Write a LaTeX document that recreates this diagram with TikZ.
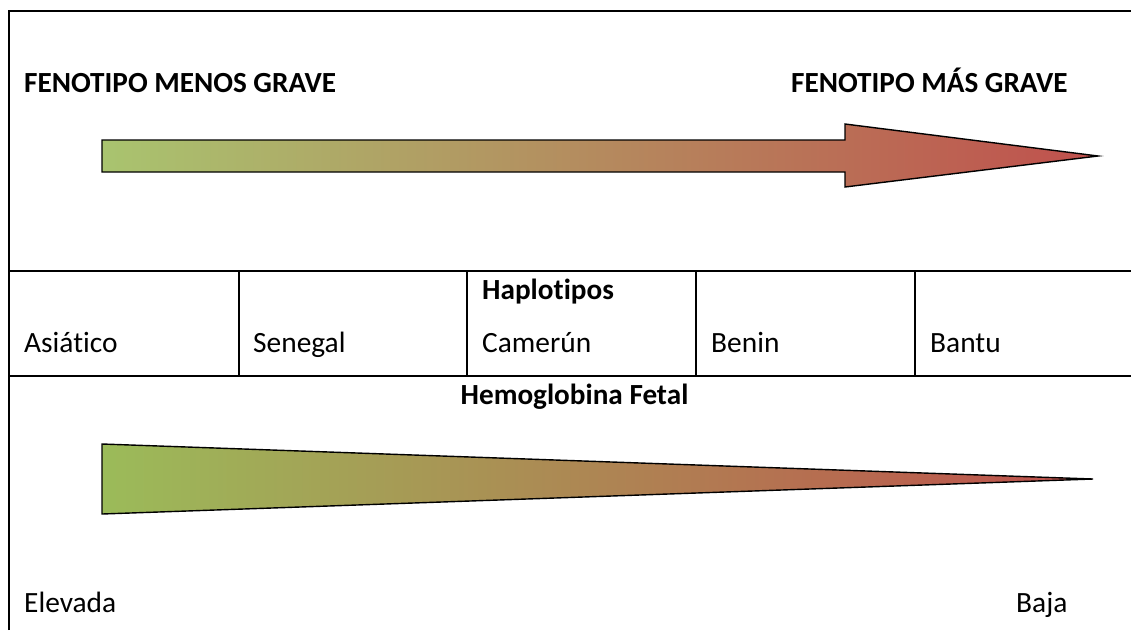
\documentclass[tikz,border=0pt]{standalone}
\usepackage{fontspec}
\setmainfont{Carlito}[Ligatures=NoCommon]
\usepackage{tikz}
\usetikzlibrary{positioning}

\definecolor{mildgreen}{HTML}{A9C46F}
\definecolor{deepgreen}{HTML}{9BBB59}
\definecolor{severered}{HTML}{C0504D}

\begin{document}
\begin{tikzpicture}[x=1pt, y=-1pt,
heading/.style={font=\bfseries\fontsize{29.2}{35}\selectfont, anchor=base west, inner sep=0pt},
celltext/.style={font=\fontsize{29.4}{35}\selectfont, anchor=base west, inner sep=0pt},
rule/.style={line width=2pt},
band/.style={draw=black, line width=1.4pt, line join=miter}
]
\useasboundingbox (0,0) rectangle (1131,630);
% frame and table lines
\draw[rule] (9,630) -- (9,11) -- (1131,11);
\draw[rule] (9,271) -- (1131,271);
\draw[rule] (9,376) -- (1131,376);
\foreach \xcol in {239,467,696,915}
  \draw[rule] (\xcol,271) -- (\xcol,376);
% severity arrow
\draw[band, left color=mildgreen, right color=severered]
  (102,140) -- (845,140) -- (845,124) -- (1098,156) -- (845,187) -- (845,172) -- (102,172) -- cycle;
% fetal haemoglobin wedge
\draw[band, left color=deepgreen, right color=severered]
  (102,444) -- (1093,479) -- (102,514) -- cycle;
\node[heading] (mild) at (24,92) {FENOTIPO MENOS GRAVE};
\node[heading] (severe) at (791,92) {FENOTIPO MÁS GRAVE};
\node[heading] (haplo) at (482,299) {Haplotipos};
\node[celltext] (asia) at (24,352) {Asiático};
\node[celltext] (senegal) at (253,352) {Senegal};
\node[celltext] (camerun) at (482,352) {Camerún};
\node[celltext] (benin) at (711,352) {Benin};
\node[celltext] (bantu) at (930,352) {Bantu};
\node[heading, anchor=base] (hbf) at (574.5,404) {Hemoglobina Fetal};
\node[celltext] (high) at (24,612) {Elevada};
\node[celltext] (low) at (1016,612) {Baja};
\end{tikzpicture}
\end{document}
